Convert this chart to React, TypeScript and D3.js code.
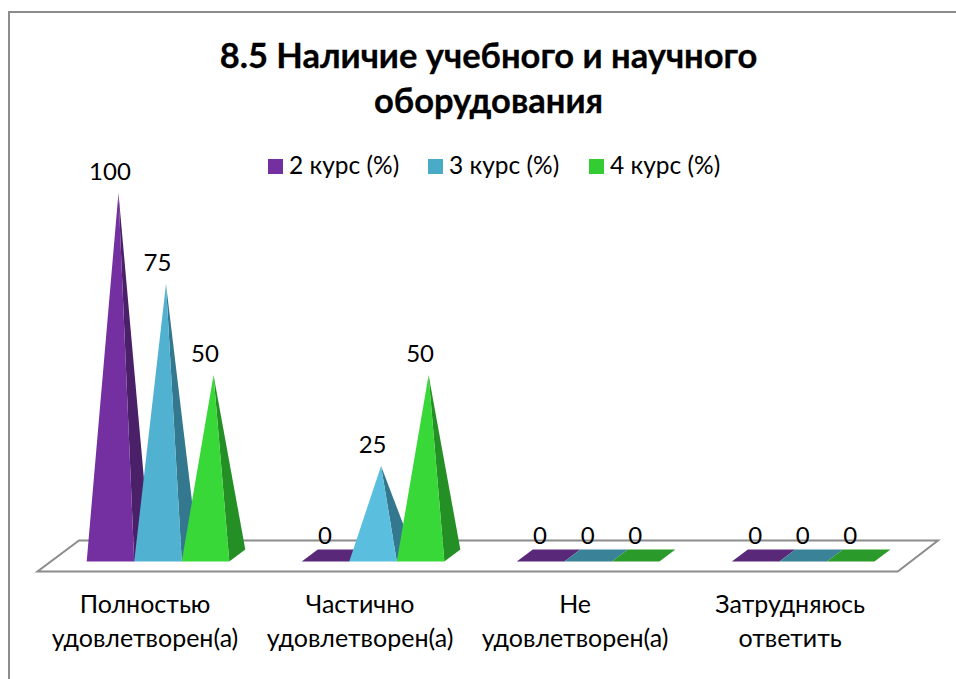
import React from "react";
import * as d3 from "d3";

const categories = [
  ["Полностью", "удовлетворен(а)"],
  ["Частично", "удовлетворен(а)"],
  ["Не", "удовлетворен(а)"],
  ["Затрудняюсь", "ответить"],
];
const seriesNames = ["2 курс (%)", "3 курс (%)", "4 курс (%)"];
const course2 = [100, 0, 0, 0];
const course3 = [75, 25, 0, 0];
const course4 = [50, 50, 0, 0];
const frontColors = ["#7430a0", "#50b1d0", "#38d838"];
const blueSecondGroup = "#5abfde";
const sideColors = ["#4a2068", "#33788e", "#248f24"];
const flatColors = ["#5a2878", "#3a8298", "#2a9a2a"];
const legendColors = ["#7430a0", "#4aabc6", "#33cc33"];

const FONT = "Lato, 'Open Sans', sans-serif";
const DX = 16;
const DY = 12;

export default function App() {
  const series = [course2, course3, course4];
  const x0 = d3.scaleBand<number>().domain(d3.range(categories.length)).range([37.5, 897.7]);
  const x1 = d3.scaleBand<number>().domain(d3.range(3)).range([49.2, 191.8]);
  const y = d3.scaleLinear().domain([0, 100]).range([557, 193]);
  const baseY = 561.5;
  const w = x1.bandwidth();
  const poly = (pts: [number, number][]) => d3.line()(pts) + "Z";
  const floor = poly([[37.5, 571.5], [897.7, 571.5], [938, 540.5], [79, 540.5]]);

  return (
    <svg width={956} height={679} style={{ position: "absolute", left: 0, top: 0 }}>
      <rect width={956} height={679} fill="#fff" />
      <path d="M9,679V12H956" fill="none" stroke="#8c8c8c" strokeWidth={2} />
      <g fontFamily={FONT} fontWeight={700} fontSize={34.5} textAnchor="middle" fill="#000" stroke="#000" strokeWidth={0.3}>
        <text x={488.5} y={68}>8.5 Наличие учебного и научного</text>
        <text x={488.5} y={113}>оборудования</text>
      </g>
      {seriesNames.map((n, i) => {
        const lx = [268, 428, 589][i];
        return (
          <g key={n}>
            <rect x={lx} y={159} width={15} height={15} fill={legendColors[i]} />
            <text x={lx + 21} y={174} fontFamily={FONT} fontSize={24.5} fill="#000">{n}</text>
          </g>
        );
      })}
      <path d={floor} fill="#fff" stroke="#8c8c8c" strokeWidth={2} />
      {categories.map((c, ci) =>
        series.map((s, si) => {
          const v = s[ci];
          const l = x0(ci)! + x1(si)!;
          const r = l + w;
          const apex: [number, number] = [(l + r) / 2 + DX / 2, y(v)];
          const front = si === 1 && ci === 1 ? blueSecondGroup : frontColors[si];
          return (
            <g key={`${ci}-${si}`}>
              {v > 0 ? (
                <>
                  <path d={poly([apex, [r, baseY], [r + DX, baseY - DY]])} fill={sideColors[si]} />
                  <path d={poly([apex, [l, baseY], [r, baseY]])} fill={front} />
                </>
              ) : (
                <path d={poly([[l, baseY], [r, baseY], [r + DX, baseY - DY], [l + DX, baseY - DY]])} fill={flatColors[si]} />
              )}
            </g>
          );
        })
      )}
      {categories.map((c, ci) =>
        series.map((s, si) => {
          const l = x0(ci)! + x1(si)!;
          return (
            <text key={`${ci}-${si}`} x={l + w / 2 - 0.5} y={y(s[ci]) - 13} fontFamily={FONT} fontSize={24} textAnchor="middle" fill="#000">
              {s[ci]}
            </text>
          );
        })
      )}
      {categories.map((c, ci) => (
        <g key={ci} fontFamily={FONT} fontSize={25} textAnchor="middle" fill="#000">
          {c.map((t, i) => (
            <text key={i} x={x0(ci)! + x0.bandwidth() / 2} y={613 + i * 34}>{t}</text>
          ))}
        </g>
      ))}
    </svg>
  );
}
